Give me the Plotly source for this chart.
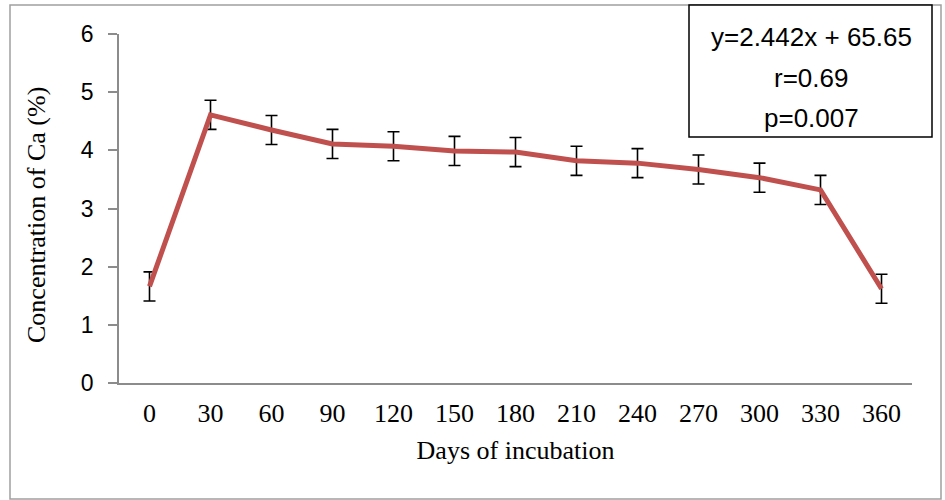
import plotly.graph_objects as go

days = ["0", "30", "60", "90", "120", "150", "180", "210", "240", "270", "300", "330", "360"]
ca = [1.66, 4.61, 4.35, 4.11, 4.07, 3.99, 3.97, 3.82, 3.78, 3.67, 3.53, 3.32, 1.62]
err = [0.25, 0.25, 0.25, 0.25, 0.25, 0.25, 0.25, 0.25, 0.25, 0.25, 0.25, 0.25, 0.25]
y_ticks = [0, 1, 2, 3, 4, 5, 6]
box_lines = ["y=2.442x + 65.65", "r=0.69", "p=0.007"]

fig = go.Figure()
fig.add_trace(go.Scatter(
    x=days, y=ca, mode="lines",
    line=dict(color="#C0504D", width=5),
    error_y=dict(type="data", array=err, visible=True, color="black", thickness=1.6, width=6),
    showlegend=False,
))

L, R, T, B = 119, 912, 34, 383
W, H = 945, 500
def px(x): return (x - L) / (R - L)
def py(y): return (B - y) / (B - T)

fig.update_layout(
    width=W, height=H,
    margin=dict(l=L, r=W - R, t=T, b=H - B),
    paper_bgcolor="white", plot_bgcolor="white",
    xaxis=dict(
        type="category", range=[-0.5, 12.5],
        showline=True, linecolor="#8C8C8C", linewidth=1.5,
        showgrid=False, zeroline=False, ticks="",
        tickfont=dict(family="Liberation Serif", size=26, color="black"),
        ticklabelstandoff=6,
        title=dict(text="Days of incubation", font=dict(family="Liberation Serif", size=26, color="black"), standoff=14),
    ),
    yaxis=dict(
        range=[0, 6], tickvals=y_ticks,
        showline=True, linecolor="#8C8C8C", linewidth=1.5,
        ticks="outside", ticklen=9, tickcolor="#8C8C8C", tickwidth=1.5,
        showgrid=False, zeroline=False,
        tickfont=dict(family="Liberation Sans", size=23, color="black"),
        ticklabelstandoff=10,
    ),
    shapes=[
        dict(type="rect", xref="paper", yref="paper",
             x0=px(10), x1=px(941), y0=py(499), y1=py(5),
             line=dict(color="#A0A0A0", width=1.5), layer="below"),
        dict(type="rect", xref="paper", yref="paper",
             x0=px(689), x1=px(932), y0=py(137), y1=py(5),
             line=dict(color="black", width=1.5), fillcolor="white"),
    ],
)

fig.add_annotation(text="Concentration of Ca (%)", xref="paper", yref="paper",
                   x=px(36), y=py(215), xanchor="center", yanchor="middle",
                   textangle=-90, showarrow=False,
                   font=dict(family="Liberation Serif", size=26, color="black"))

for txt, yc in zip(box_lines, [37, 78, 118]):
    fig.add_annotation(text=txt, xref="paper", yref="paper", x=px(811), y=py(yc),
                       xanchor="center", yanchor="middle", showarrow=False,
                       font=dict(family="Liberation Sans", size=26, color="black"))

fig.write_html("out.html")
